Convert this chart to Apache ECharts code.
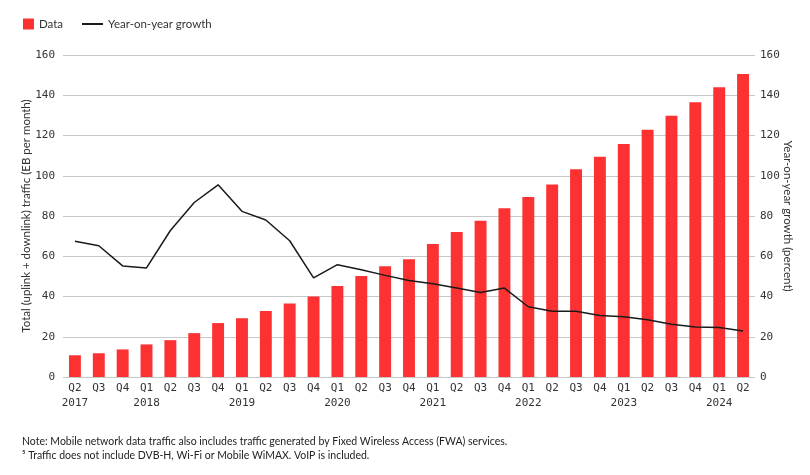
<!DOCTYPE html>
<html>
<head>
<meta charset="utf-8">
<script src="https://cdn.jsdelivr.net/npm/echarts@6/dist/echarts.min.js"></script>
<style>html,body{margin:0;padding:0;background:#fff}#c{width:810px;height:475px}</style>
</head>
<body>
<div id="c"></div>
<script>
const quarters = ['Q2','Q3','Q4','Q1','Q2','Q3','Q4','Q1','Q2','Q3','Q4','Q1','Q2','Q3','Q4','Q1','Q2','Q3','Q4','Q1','Q2','Q3','Q4','Q1','Q2','Q3','Q4','Q1','Q2'];
const years = ['2017','','','2018','','','','2019','','','','2020','','','','2021','','','','2022','','','','2023','','','','2024',''];
const trafficData = [10.8,11.8,13.7,16.2,18.3,21.8,26.8,29.2,32.8,36.5,40.0,45.2,50.2,55.0,58.5,66.1,72.1,77.7,83.9,89.4,95.7,103.2,109.5,115.8,122.8,129.8,136.5,144.0,150.5];
const growthData = [67.5,65.2,55.2,54.2,72.8,86.7,95.5,82.3,78.0,67.7,49.3,55.8,53.3,50.5,48.0,46.3,44.2,42.0,44.2,34.9,32.7,32.7,30.6,29.9,28.4,26.2,24.9,24.6,22.8];
const yTicks = [0,20,40,60,80,100,120,140,160];

const categories = quarters.map((q, i) => q + '\n' + years[i]);
const mono = 'DejaVu Sans Mono';
const sans = 'Lato';

const chart = echarts.init(document.getElementById('c'));
chart.setOption({
  animation: false,
  grid: { left: 63, right: 55, top: 55, bottom: 98 },
  legend: [
    { left: 18, top: 13, itemWidth: 11, itemHeight: 11, icon: 'rect',
      data: ['Data'], textStyle: { fontFamily: sans, fontSize: 11.5, color: '#333' } },
    { left: 77, top: 13, itemWidth: 21, itemHeight: 2, icon: 'rect',
      data: ['Year-on-year growth'], textStyle: { fontFamily: sans, fontSize: 11.5, color: '#333' } }
  ],
  xAxis: {
    type: 'category', data: categories,
    axisLine: { show: false }, axisTick: { show: false },
    axisLabel: { interval: 0, fontFamily: mono, fontSize: 11, color: '#333', lineHeight: 15, margin: 4 }
  },
  yAxis: [
    { type: 'value', min: yTicks[0], max: yTicks[yTicks.length-1], interval: 20,
      name: 'Total (uplink + downlink) traffic (EB per month)', nameLocation: 'middle', nameRotate: 90, nameGap: 31,
      nameMoveOverlap: false,
      nameTextStyle: { fontFamily: sans, fontSize: 11.5, color: '#333' },
      axisLine: { show: false }, axisTick: { show: false },
      axisLabel: { fontFamily: mono, fontSize: 11, color: '#333', margin: 8 },
      splitLine: { lineStyle: { color: '#c8c8c8', width: 1 } } },
    { type: 'value', min: yTicks[0], max: yTicks[yTicks.length-1], interval: 20, position: 'right',
      name: 'Year-on-year growth (percent)', nameLocation: 'middle', nameRotate: -90, nameGap: 27,
      nameMoveOverlap: false,
      nameTextStyle: { fontFamily: sans, fontSize: 11.5, color: '#333' },
      axisLine: { show: false }, axisTick: { show: false },
      axisLabel: { fontFamily: mono, fontSize: 11, color: '#333', margin: 5 },
      splitLine: { show: false } }
  ],
  series: [
    { name: 'Data', type: 'bar', data: trafficData, barWidth: '50%', itemStyle: { color: '#fc3232' } },
    { name: 'Year-on-year growth', type: 'line', yAxisIndex: 1, data: growthData, symbol: 'none',
      lineStyle: { color: '#1a1a1a', width: 1.5 }, itemStyle: { color: '#1a1a1a' } }
  ],
  graphic: [
    { type: 'text', left: 22, top: 436, style: { text: 'Note: Mobile network data traffic also includes traffic generated by Fixed Wireless Access (FWA) services.', fontFamily: sans, fontSize: 10.5, fill: '#222' } },
    { type: 'text', left: 22, top: 450, style: { text: '\u2075 Traffic does not include DVB-H, Wi-Fi or Mobile WiMAX. VoIP is included.', fontFamily: sans, fontSize: 10.5, fill: '#222' } }
  ]
});
</script>
</body>
</html>
